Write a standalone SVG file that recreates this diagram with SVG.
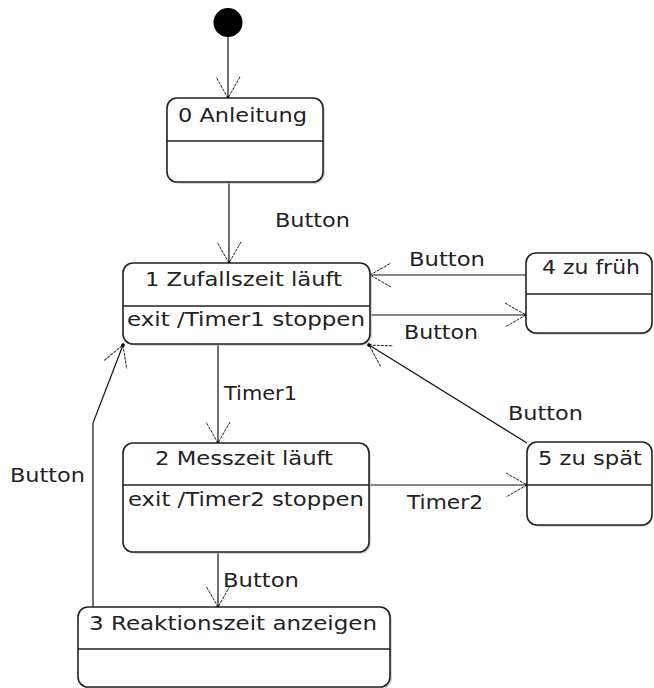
<svg xmlns="http://www.w3.org/2000/svg" width="654" height="688" viewBox="0 0 654 688">
<style>
  .box { fill: #fff; stroke: #222; stroke-width: 1.6; }
  .shadow { fill: #bbb; opacity: 0.6; }
  .div { stroke: #222; stroke-width: 1.5; }
  .t { font-family: "DejaVu Sans", "Liberation Sans", sans-serif; font-size: 20px; fill: #222; }
  .edge { fill: none; stroke: #111; stroke-width: 1.2; }
  .head { fill: none; stroke: #222; stroke-width: 1; stroke-dasharray: 3 1; }
</style>
<defs>
  <marker id="arr" markerUnits="userSpaceOnUse" viewBox="-24 -15 27 30" refX="0" refY="0" markerWidth="27" markerHeight="30" orient="auto" overflow="visible">
    <path class="head" d="M-21,-12 L0,0 L-21,12"/>
    <circle cx="0" cy="0" r="1.8" fill="#000"/>
  </marker>
</defs>
<rect width="654" height="688" fill="#fff"/>

<g id="connectors">
  <line class="edge" x1="228" y1="37" x2="228" y2="98" marker-end="url(#arr)"/>
  <line class="edge" x1="229" y1="182" x2="229" y2="263" marker-end="url(#arr)"/>
  <line class="edge" x1="526" y1="275" x2="370" y2="275" marker-end="url(#arr)"/>
  <line class="edge" x1="370" y1="315" x2="526" y2="315" marker-end="url(#arr)"/>
  <line class="edge" x1="218" y1="344" x2="218" y2="443" marker-end="url(#arr)"/>
  <line class="edge" x1="369" y1="485" x2="527" y2="485" marker-end="url(#arr)"/>
  <line class="edge" x1="527" y1="443" x2="369" y2="345" marker-end="url(#arr)" stroke-width="1"/>
  <line class="edge" x1="218" y1="552" x2="218" y2="607" marker-end="url(#arr)"/>
  <polyline class="edge" points="93,607 93,423 123,345" marker-end="url(#arr)"/>
  <text class="t" x="275" y="227" textLength="75" lengthAdjust="spacingAndGlyphs">Button</text>
  <text class="t" x="409" y="266" textLength="76" lengthAdjust="spacingAndGlyphs">Button</text>
  <text class="t" x="404" y="339" textLength="74" lengthAdjust="spacingAndGlyphs">Button</text>
  <text class="t" x="224" y="400" textLength="73" lengthAdjust="spacingAndGlyphs">Timer1</text>
  <text class="t" x="508" y="420" textLength="75" lengthAdjust="spacingAndGlyphs">Button</text>
  <text class="t" x="10" y="482" textLength="75" lengthAdjust="spacingAndGlyphs">Button</text>
  <text class="t" x="407" y="509" textLength="76" lengthAdjust="spacingAndGlyphs">Timer2</text>
  <text class="t" x="223" y="587" textLength="76" lengthAdjust="spacingAndGlyphs">Button</text>
</g>

<g id="initial">
  <circle cx="228" cy="22.5" r="14.5" fill="#000"/>
</g>

<g id="s0">
  <rect class="shadow" x="169" y="100" width="156" height="84" rx="10"/>
  <rect class="box" x="167" y="98" width="156" height="84" rx="10"/>
  <line class="div" x1="167" y1="141" x2="323" y2="141"/>
  <text class="t" x="178" y="122" textLength="129" lengthAdjust="spacingAndGlyphs">0 Anleitung</text>
</g>

<g id="s1">
  <rect class="shadow" x="125" y="265" width="247" height="81" rx="10"/>
  <rect class="box" x="123" y="263" width="247" height="81" rx="10"/>
  <line class="div" x1="123" y1="306" x2="370" y2="306"/>
  <text class="t" x="145" y="286" textLength="197" lengthAdjust="spacingAndGlyphs">1 Zufallszeit läuft</text>
  <text class="t" x="127" y="326" textLength="238" lengthAdjust="spacingAndGlyphs">exit /Timer1 stoppen</text>
</g>

<g id="s4">
  <rect class="shadow" x="528" y="255" width="124" height="80" rx="10"/>
  <rect class="box" x="526" y="253" width="126" height="80" rx="10"/>
  <line class="div" x1="526" y1="294" x2="652" y2="294"/>
  <text class="t" x="542" y="274" textLength="98" lengthAdjust="spacingAndGlyphs">4 zu früh</text>
</g>

<g id="s2">
  <rect class="shadow" x="125" y="445" width="246" height="109" rx="10"/>
  <rect class="box" x="123" y="443" width="246" height="109" rx="10"/>
  <line class="div" x1="123" y1="485" x2="369" y2="485"/>
  <text class="t" x="155" y="465" textLength="178" lengthAdjust="spacingAndGlyphs">2 Messzeit läuft</text>
  <text class="t" x="128" y="506" textLength="236" lengthAdjust="spacingAndGlyphs">exit /Timer2 stoppen</text>
</g>

<g id="s5">
  <rect class="shadow" x="529" y="444" width="123" height="83" rx="10"/>
  <rect class="box" x="527" y="442" width="125" height="83" rx="10"/>
  <line class="div" x1="527" y1="485" x2="652" y2="485"/>
  <text class="t" x="538" y="465" textLength="104" lengthAdjust="spacingAndGlyphs">5 zu spät</text>
</g>

<g id="s3">
  <rect class="shadow" x="80" y="609" width="312" height="80" rx="10"/>
  <rect class="box" x="78" y="607" width="312" height="80" rx="10"/>
  <line class="div" x1="78" y1="649" x2="390" y2="649"/>
  <text class="t" x="89" y="630" textLength="288" lengthAdjust="spacingAndGlyphs">3 Reaktionszeit anzeigen</text>
</g>
</svg>
